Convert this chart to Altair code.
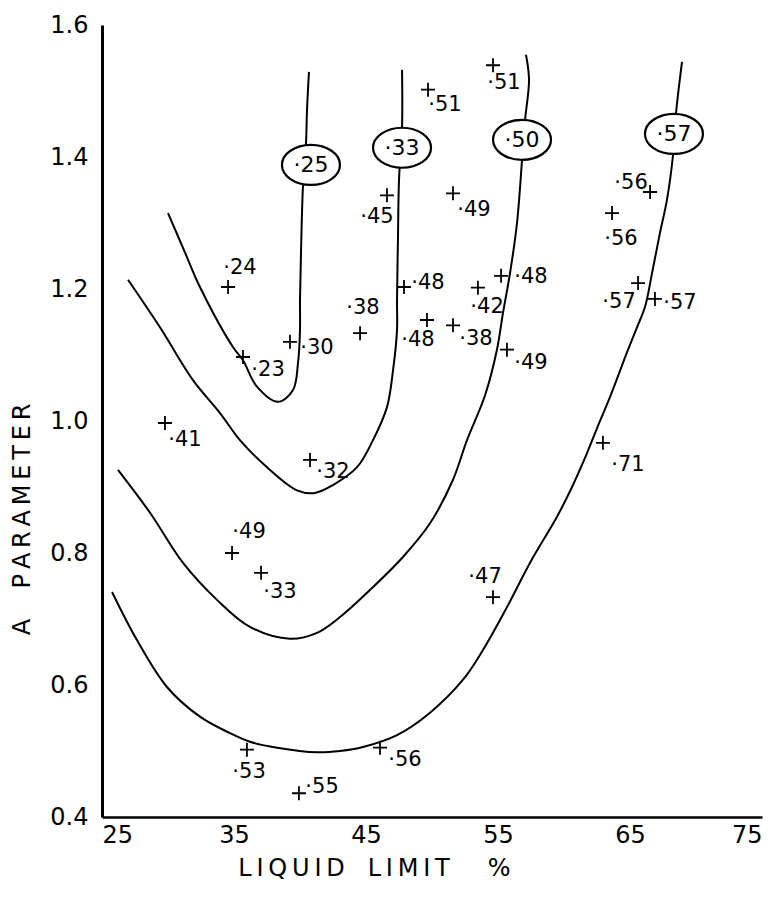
import altair as alt
import pandas as pd

# ---- contour curves of pore pressure ratio (drawn paths, data units) ----
c25_x = [30.0, 31.21, 32.42, 34.92, 35.68, 36.74, 38.33, 39.47, 39.85, 40.0, 40.0, 40.08, 40.23, 40.45, 40.53, 40.68]
c25_y = [1.315, 1.259, 1.203, 1.112, 1.092, 1.052, 1.029, 1.047, 1.088, 1.138, 1.183, 1.259, 1.358, 1.418, 1.471, 1.529]

c33_x = [26.97, 29.39, 31.89, 33.94, 35.45, 37.50, 39.77, 41.14, 42.50, 44.32, 45.53, 46.59, 47.05, 47.35, 47.35, 47.42, 47.50, 47.73, 47.73]
c33_y = [1.214, 1.142, 1.062, 1.012, 0.971, 0.930, 0.895, 0.891, 0.903, 0.930, 0.971, 1.021, 1.077, 1.138, 1.183, 1.274, 1.365, 1.445, 1.532]

c50_x = [26.21, 28.64, 31.14, 33.71, 36.21, 39.24, 41.29, 43.03, 45.30, 47.80, 49.85, 51.59, 52.65, 54.02, 54.92, 55.38, 55.91, 56.44, 56.82, 57.05, 57.35, 57.12]
c50_y = [0.926, 0.861, 0.785, 0.729, 0.688, 0.670, 0.679, 0.703, 0.744, 0.794, 0.845, 0.911, 0.971, 1.039, 1.108, 1.164, 1.224, 1.300, 1.395, 1.456, 1.517, 1.555]

c57_x = [25.76, 27.65, 29.92, 32.42, 34.70, 36.21, 38.26, 41.29, 43.03, 44.77, 47.35, 49.85, 52.35, 53.86, 55.68, 57.42, 59.47, 60.61, 61.59, 62.50, 63.48, 64.85, 65.53, 66.14, 66.67, 67.27, 67.80, 68.26, 68.49, 68.94]
c57_y = [0.741, 0.668, 0.597, 0.552, 0.527, 0.514, 0.505, 0.498, 0.500, 0.506, 0.524, 0.558, 0.608, 0.653, 0.718, 0.785, 0.855, 0.900, 0.944, 0.989, 1.036, 1.108, 1.142, 1.173, 1.224, 1.285, 1.335, 1.403, 1.467, 1.544]

# ---- contour labels (ovals) ----
oval_text = ["·25", "·33", "·50", "·57"]
oval_x = [40.83, 47.73, 56.82, 68.33]
oval_y = [1.388, 1.414, 1.426, 1.435]

# ---- test points ----
pt_x = [54.62, 49.70, 46.59, 51.59, 66.52, 63.64, 34.55, 47.88, 53.48, 55.23, 65.61, 66.89, 44.55, 49.62,
        51.59, 39.24, 35.68, 55.68, 29.77, 40.76, 62.95, 34.85, 37.05, 54.62, 35.98, 46.06, 39.92]
pt_y = [1.539, 1.502, 1.342, 1.345, 1.347, 1.315, 1.203, 1.203, 1.202, 1.220, 1.209, 1.185, 1.133, 1.153,
        1.145, 1.120, 1.097, 1.108, 0.997, 0.941, 0.967, 0.800, 0.770, 0.733, 0.502, 0.505, 0.436]
pt_text = ["·51", "·51", "·45", "·49", "·56", "·56", "·24", "·48", "·42", "·48", "·57", "·57", "·38", "·48",
           "·38", "·30", "·23", "·49", "·41", "·32", "·71", "·49", "·33", "·47", "·53", "·56", "·55"]
lab_x = [55.45, 50.98, 45.83, 53.18, 65.08, 64.32, 35.45, 49.70, 54.17, 57.50, 64.17, 68.79, 44.77, 48.94,
         53.33, 41.29, 37.58, 57.50, 31.29, 42.50, 64.85, 36.14, 38.48, 54.02, 36.14, 47.95, 41.67]
lab_y = [1.512, 1.479, 1.309, 1.320, 1.361, 1.276, 1.232, 1.209, 1.173, 1.218, 1.180, 1.179, 1.171, 1.123,
         1.124, 1.111, 1.077, 1.088, 0.971, 0.923, 0.933, 0.832, 0.741, 0.764, 0.468, 0.486, 0.445]

x_ticks = [25, 35, 45, 55, 65, 75]
y_ticks = [0.4, 0.6, 0.8, 1.0, 1.2, 1.4, 1.6]

FONT = "DejaVu Sans"
TS = "\u2009"   # thin space for the hand-lettered spacing
NB = "\u00a0"
x_title = TS.join("LIQUID") + NB * 3 + TS.join("LIMIT") + NB * 5 + "%"
y_title = "A" + NB * 4 + TS.join("PARAMETER")

rows = []
for name, xs, ys in [("25", c25_x, c25_y), ("33", c33_x, c33_y), ("50", c50_x, c50_y), ("57", c57_x, c57_y)]:
    for i, (a, b) in enumerate(zip(xs, ys)):
        rows.append({"x": a, "y": b, "curve": name, "idx": i})
curves = pd.DataFrame(rows)
ovals = pd.DataFrame({"x": oval_x, "y": oval_y, "t": oval_text})
points = pd.DataFrame({"x": pt_x, "y": pt_y})
labels = pd.DataFrame({"x": lab_x, "y": lab_y, "t": pt_text})

X = alt.X("x:Q", scale=alt.Scale(domain=[25, 75], nice=False, zero=False),
          axis=alt.Axis(values=x_ticks, title=x_title, grid=False, ticks=False,
                        domainColor="black", domainWidth=2.5, labelFont=FONT, labelFontSize=24,
                        labelColor="black", labelPadding=6, labelFlush=True,
                        titleFont=FONT, titleFontSize=24, titleFontWeight="normal", titleColor="black",
                        titleX=272, titleY=51, titleBaseline="middle", titleAlign="center"))
Y = alt.Y("y:Q", scale=alt.Scale(domain=[0.4, 1.6], nice=False, zero=False),
          axis=alt.Axis(values=y_ticks, format=".1f", title=y_title, grid=False, ticks=False,
                        domainColor="black", domainWidth=3, labelFont=FONT, labelFontSize=24,
                        labelColor="black", labelPadding=14, labelFlush=False,
                        titleFont=FONT, titleFontSize=24, titleFontWeight="normal", titleColor="black",
                        titleAngle=270, titleX=-80, titleY=494, titleBaseline="middle", titleAlign="center"))

lines = alt.Chart(curves).mark_line(color="black", strokeWidth=2, interpolate="catmull-rom").encode(
    x=X, y=Y, detail="curve:N", order="idx:Q")

oval_shape = "M-1.45,0A1.45,1,0,1,1,1.45,0A1.45,1,0,1,1,-1.45,0Z"
oval_marks = alt.Chart(ovals).mark_point(shape=oval_shape, size=1600, filled=True, fill="white",
                                         stroke="black", strokeWidth=2.2, opacity=1).encode(x=X, y=Y)
oval_txt = alt.Chart(ovals).mark_text(font=FONT, fontSize=22, color="black").encode(x=X, y=Y, text="t:N")

plus = alt.Chart(points).mark_point(shape="M-1,0L1,0M0,-1L0,1", size=196, filled=False,
                                    stroke="black", strokeWidth=1.8, opacity=1).encode(x=X, y=Y)
ptxt = alt.Chart(labels).mark_text(font=FONT, fontSize=21, color="black").encode(x=X, y=Y, text="t:N")

chart = alt.layer(lines, oval_marks, oval_txt, plus, ptxt).properties(
    width=660, height=792,
    autosize=alt.AutoSizeParams(type="none"),
    padding={"left": 102, "top": 25, "right": 10, "bottom": 80},
    background="white",
).configure_view(stroke=None)

chart.save("out.html", embed_options={"renderer": "svg", "actions": False})
